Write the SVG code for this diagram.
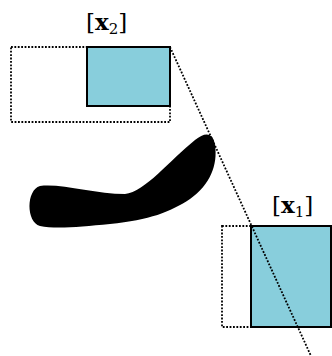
<svg xmlns="http://www.w3.org/2000/svg" width="332" height="356" viewBox="0 0 332 356">
<style>
.dot{fill:none;stroke:#000;stroke-width:1.8;stroke-dasharray:1.8 1.6}
.box{fill:#88CEDC;stroke:#000;stroke-width:2}
.lbl{font-family:"DejaVu Serif","Liberation Serif",serif;font-size:23px;fill:#000}
</style>
<g id="x2">
<rect class="dot" x="11" y="47" width="159" height="75"/>
<rect class="box" x="87" y="47" width="83" height="59"/>
<text class="lbl" x="86" y="30">[<tspan font-weight="bold">x</tspan><tspan font-size="15" dy="4">2</tspan><tspan dy="-4">]</tspan></text>
</g>
<g id="x1">
<rect class="dot" x="222" y="226" width="29" height="101"/>
<rect class="box" x="251" y="226" width="80" height="101"/>
<text class="lbl" x="272" y="213">[<tspan font-weight="bold">x</tspan><tspan font-size="15" dy="4">1</tspan><tspan dy="-4">]</tspan></text>
</g>
<g id="blob">
<path fill="#000" d="M 40 186 C 60 183, 95 194, 125 194 C 145 192, 170 160, 195 140 C 205 132, 213 132, 215 145 C 218 165, 210 185, 190 199 C 170 212, 150 220, 110 224 C 80 227, 55 229, 40 226 C 26 222, 26 190, 40 186 Z"/>
</g>
<g id="connectors">
<line class="dot" x1="170" y1="47" x2="311" y2="356"/>
</g>
</svg>
